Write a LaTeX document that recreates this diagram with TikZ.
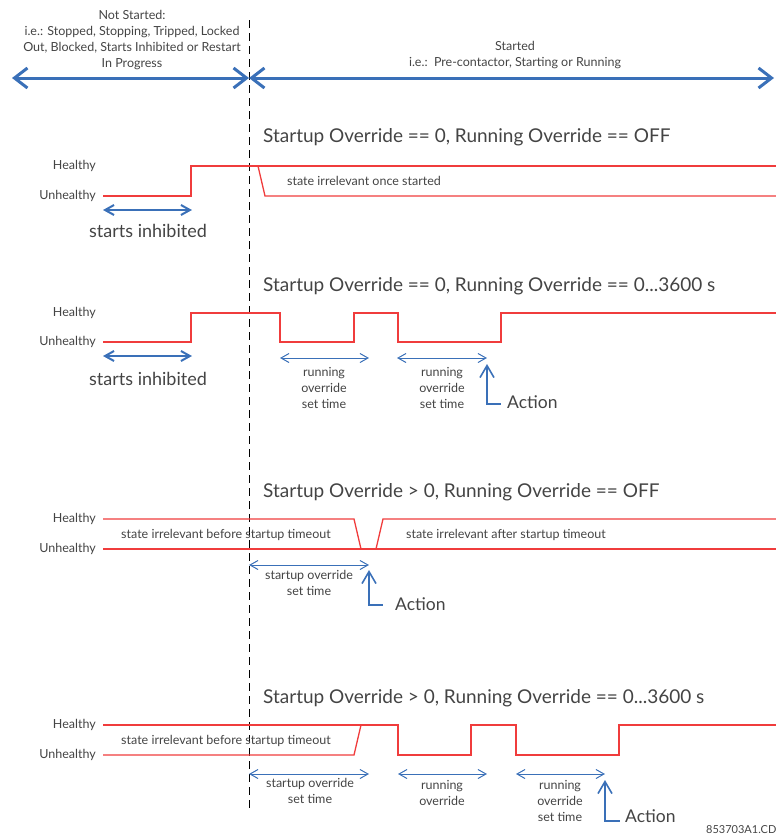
\documentclass[tikz,border=0pt]{standalone}
\usepackage{fontspec}
\setmainfont{Lato}
\usetikzlibrary{arrows.meta}
\definecolor{sigred}{HTML}{F03C3C}
\definecolor{arrblue}{HTML}{3A70B8}
\definecolor{txt}{HTML}{444444}
\begin{document}
\begin{tikzpicture}[x=1pt,y=-1pt,
 sig/.style={draw=sigred,line width=1.3pt},
 bigarrow/.style={draw=arrblue,line width=3pt,{Straight Barb[length=13pt,width=20pt]}-{Straight Barb[length=13pt,width=20pt]}},
 medarrow/.style={draw=arrblue,line width=2pt,{Straight Barb[length=9pt,width=10pt]}-{Straight Barb[length=9pt,width=10pt]}},
 thinarrow/.style={draw=arrblue,line width=1pt,{Straight Barb[length=8pt,width=9pt]}-{Straight Barb[length=8pt,width=9pt]}},
 actarrow/.style={draw=arrblue,line width=1.6pt,{Straight Barb[length=12pt,width=14pt]}-},
 small/.style={font=\fontsize{12.5}{15.7}\selectfont,text=txt,inner sep=0pt,align=center},
 head/.style={font=\fontsize{19}{21}\selectfont,text=txt,anchor=west,inner sep=0pt},
 lvl/.style={font=\fontsize{12.5}{14}\selectfont,text=txt,anchor=east,inner sep=0pt},
 mid/.style={font=\fontsize{18}{20}\selectfont,text=txt,inner sep=0pt},
 act/.style={font=\fontsize{17.5}{19}\selectfont,text=txt,inner sep=0pt,anchor=west},
]
\useasboundingbox (0,0) rectangle (776,836);

% divider
\draw[dash pattern=on 8pt off 5pt,line width=1pt] (249,20) -- (249,812);

% top arrows
\coordinate (tl) at (12,78);
\coordinate (tm) at (249,78);
\coordinate (tr) at (774,78);
\draw[bigarrow] (tl) -- (tm);
\draw[bigarrow] (tm) -- (tr);
\node[small] (notstarted) at (132,40) {Not Started:\\i.e.: Stopped, Stopping, Tripped, Locked\\Out, Blocked, Starts Inhibited or Restart\\In Progress};
\node[small] (started) at (515,55) {Started\\i.e.:\ \ Pre-contactor, Starting or Running};

% ---------- panel 1
\node[head] (h1) at (263,137) {Startup Override == 0, Running Override == OFF};
\node[lvl] (hl1) at (96,166) {Healthy};
\node[lvl] (ul1) at (96,196) {Unhealthy};
\draw[sig] (103,196) -- (191,196) -- (191,166) -- (776,166);
\draw[sig] (258,166) -- (265,196) -- (776,196);
\node[small,anchor=west] (irr1) at (287,181) {state irrelevant once started};
\coordinate (si1a) at (103,210);
\coordinate (si1b) at (192,210);
\draw[medarrow] (si1a) -- (si1b);
\node[mid] (si1) at (148,231) {starts inhibited};

% ---------- panel 2
\node[head] (h2) at (263,286) {Startup Override == 0, Running Override == 0...3600 s};
\node[lvl] (hl2) at (96,313) {Healthy};
\node[lvl] (ul2) at (96,342) {Unhealthy};
\draw[sig] (103,342) -- (191,342) -- (191,313) -- (280,313) -- (280,342) -- (354,342) -- (354,313) -- (398,313) -- (398,342) -- (501,342) -- (501,313) -- (776,313);
\coordinate (si2a) at (103,356);
\coordinate (si2b) at (192,356);
\draw[medarrow] (si2a) -- (si2b);
\node[mid] (si2) at (148,379) {starts inhibited};
\coordinate (r2a) at (280,358);
\coordinate (r2b) at (369,358);
\coordinate (r2c) at (397,358);
\coordinate (r2d) at (487,358);
\draw[thinarrow] (r2a) -- (r2b);
\draw[thinarrow] (r2c) -- (r2d);
\node[small] (ro2a) at (324,388) {running\\override\\set time};
\node[small] (ro2b) at (442,388) {running\\override\\set time};
\coordinate (a2top) at (487,364);
\coordinate (a2bot) at (487,404);
\coordinate (a2end) at (501,404);
\draw[actarrow] (a2top) -- (a2bot) -- (a2end);
\node[act] (act2) at (507,402) {Action};

% ---------- panel 3
\node[head] (h3) at (263,492) {Startup Override > 0, Running Override == OFF};
\node[lvl] (hl3) at (96,519) {Healthy};
\node[lvl] (ul3) at (96,549) {Unhealthy};
\draw[sig] (103,519) -- (354,519) -- (361,549);
\draw[sig] (103,549) -- (776,549);
\draw[sig] (376,549) -- (383,519) -- (776,519);
\node[small] (irr3a) at (226,535) {state irrelevant before startup timeout};
\node[small] (irr3b) at (506,535) {state irrelevant after startup timeout};
\coordinate (s3a) at (249,565);
\coordinate (s3b) at (369,565);
\draw[thinarrow] (s3a) -- (s3b);
\node[small] (so3) at (309,583) {startup override\\set time};
\coordinate (a3top) at (369,570);
\coordinate (a3bot) at (369,605);
\coordinate (a3end) at (383,605);
\draw[actarrow] (a3top) -- (a3bot) -- (a3end);
\node[act] (act3) at (395,604) {Action};

% ---------- panel 4
\node[head] (h4) at (263,698) {Startup Override > 0, Running Override == 0...3600 s};
\node[lvl] (hl4) at (96,725) {Healthy};
\node[lvl] (ul4) at (96,755) {Unhealthy};
\draw[sig] (103,725) -- (398,725) -- (398,755) -- (471,755) -- (471,725) -- (516,725) -- (516,755) -- (619,755) -- (619,725) -- (776,725);
\draw[sig] (103,755) -- (354,755) -- (361,725);
\node[small] (irr4) at (226,741) {state irrelevant before startup timeout};
\coordinate (s4a) at (249,774);
\coordinate (s4b) at (369,774);
\coordinate (r4a) at (398,774);
\coordinate (r4b) at (487,774);
\coordinate (r4c) at (516,774);
\coordinate (r4d) at (605,774);
\draw[thinarrow] (s4a) -- (s4b);
\draw[thinarrow] (r4a) -- (r4b);
\draw[thinarrow] (r4c) -- (r4d);
\node[small] (so4) at (310,791) {startup override\\set time};
\node[small] (ro4a) at (442,793) {running\\override};
\node[small] (ro4b) at (560,801) {running\\override\\set time};
\coordinate (a4top) at (605,780);
\coordinate (a4bot) at (605,821);
\coordinate (a4end) at (620,821);
\draw[actarrow] (a4top) -- (a4bot) -- (a4end);
\node[act] (act4) at (625,816) {Action};

\node[font=\fontsize{11}{12}\selectfont,text=txt,anchor=west,inner sep=0pt] (code) at (706,830) {853703A1.CDR};
\end{tikzpicture}
\end{document}
